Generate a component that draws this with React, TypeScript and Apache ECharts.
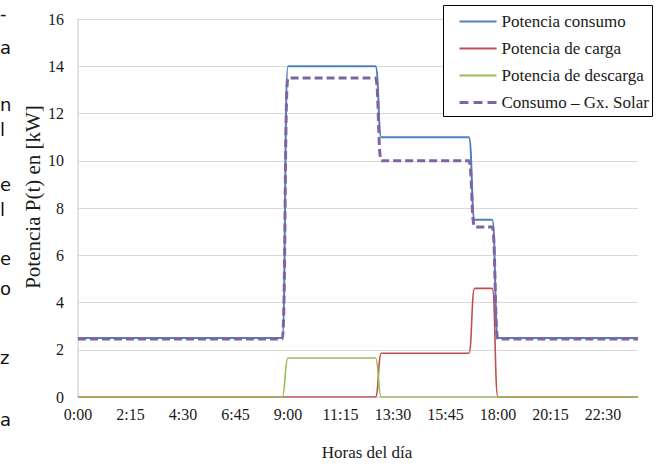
import React, { useEffect, useRef } from "react";
import * as echarts from "echarts";

const horas = [
  "0:00","0:15","0:30","0:45","1:00","1:15","1:30","1:45",
  "2:00","2:15","2:30","2:45","3:00","3:15","3:30","3:45",
  "4:00","4:15","4:30","4:45","5:00","5:15","5:30","5:45",
  "6:00","6:15","6:30","6:45","7:00","7:15","7:30","7:45",
  "8:00","8:15","8:30","8:45","9:00","9:15","9:30","9:45",
  "10:00","10:15","10:30","10:45","11:00","11:15","11:30","11:45",
  "12:00","12:15","12:30","12:45","13:00","13:15","13:30","13:45",
  "14:00","14:15","14:30","14:45","15:00","15:15","15:30","15:45",
  "16:00","16:15","16:30","16:45","17:00","17:15","17:30","17:45",
  "18:00","18:15","18:30","18:45","19:00","19:15","19:30","19:45",
  "20:00","20:15","20:30","20:45","21:00","21:15","21:30","21:45",
  "22:00","22:15","22:30","22:45","23:00","23:15","23:30","23:45",
  "24:00",
];

// 0:00 - 8:45 (36) | 9:00 - 12:45 (16) | 13:00 - 16:45 (16) | 17:00 - 17:45 (4) | 18:00 - 24:00 (25)
const potenciaConsumo = [
  2.5,2.5,2.5,2.5,2.5,2.5,2.5,2.5,2.5,2.5,2.5,2.5,2.5,2.5,2.5,2.5,2.5,2.5,
  2.5,2.5,2.5,2.5,2.5,2.5,2.5,2.5,2.5,2.5,2.5,2.5,2.5,2.5,2.5,2.5,2.5,2.5,
  14,14,14,14,14,14,14,14,14,14,14,14,14,14,14,14,
  11,11,11,11,11,11,11,11,11,11,11,11,11,11,11,11,
  7.5,7.5,7.5,7.5,
  2.5,2.5,2.5,2.5,2.5,2.5,2.5,2.5,2.5,2.5,2.5,2.5,2.5,2.5,2.5,2.5,2.5,2.5,2.5,2.5,2.5,2.5,2.5,2.5,2.5,
];

const potenciaCarga = [
  0,0,0,0,0,0,0,0,0,0,0,0,0,0,0,0,0,0,
  0,0,0,0,0,0,0,0,0,0,0,0,0,0,0,0,0,0,
  0,0,0,0,0,0,0,0,0,0,0,0,0,0,0,0,
  1.85,1.85,1.85,1.85,1.85,1.85,1.85,1.85,1.85,1.85,1.85,1.85,1.85,1.85,1.85,1.85,
  4.6,4.6,4.6,4.6,
  0,0,0,0,0,0,0,0,0,0,0,0,0,0,0,0,0,0,0,0,0,0,0,0,0,
];

const potenciaDescarga = [
  0,0,0,0,0,0,0,0,0,0,0,0,0,0,0,0,0,0,
  0,0,0,0,0,0,0,0,0,0,0,0,0,0,0,0,0,0,
  1.65,1.65,1.65,1.65,1.65,1.65,1.65,1.65,1.65,1.65,1.65,1.65,1.65,1.65,1.65,1.65,
  0,0,0,0,0,0,0,0,0,0,0,0,0,0,0,0,
  0,0,0,0,
  0,0,0,0,0,0,0,0,0,0,0,0,0,0,0,0,0,0,0,0,0,0,0,0,0,
];

const consumoMenosSolar = [
  2.45,2.45,2.45,2.45,2.45,2.45,2.45,2.45,2.45,2.45,2.45,2.45,2.45,2.45,2.45,2.45,2.45,2.45,
  2.45,2.45,2.45,2.45,2.45,2.45,2.45,2.45,2.45,2.45,2.45,2.45,2.45,2.45,2.45,2.45,2.45,2.45,
  13.5,13.5,13.5,13.5,13.5,13.5,13.5,13.5,13.5,13.5,13.5,13.5,13.5,13.5,13.5,13.5,
  10,10,10,10,10,10,10,10,10,10,10,10,10,10,10,10,
  7.2,7.2,7.2,7.2,
  2.45,2.45,2.45,2.45,2.45,2.45,2.45,2.45,2.45,2.45,2.45,2.45,2.45,2.45,2.45,2.45,2.45,2.45,2.45,2.45,2.45,2.45,2.45,2.45,2.45,
];

const seriesNames = [
  "Potencia consumo",
  "Potencia de carga",
  "Potencia de descarga",
  "Consumo \u2013 Gx. Solar",
];
const seriesColors = ["#4F81BD", "#C0504D", "#9BBB59", "#8064A2"];

const marginFragments = [
  { t: "-", y: 13 },
  { t: "a", y: 47 },
  { t: "n", y: 104 },
  { t: "l", y: 129 },
  { t: "e", y: 184 },
  { t: "l", y: 209 },
  { t: "e", y: 258 },
  { t: "o", y: 288 },
  { t: "z", y: 357 },
  { t: "a", y: 419 },
];

const SERIF = "'Liberation Serif', 'Times New Roman', serif";

export default function App() {
  const ref = useRef<HTMLDivElement>(null);
  useEffect(() => {
    if (!ref.current) return;
    const chart = echarts.init(ref.current, undefined, { renderer: "svg" });
    const data = [potenciaConsumo, potenciaCarga, potenciaDescarga, consumoMenosSolar];
    const widths = [2, 1.6, 1.6, 3];
    chart.setOption({
      animation: false,
      backgroundColor: "#ffffff",
      grid: { left: 78, right: 22, top: 19, bottom: 67, containLabel: false },
      xAxis: {
        type: "category",
        data: horas,
        boundaryGap: false,
        axisLine: { show: true, lineStyle: { color: "#D9D9D9", width: 1.5 } },
        axisTick: { show: false },
        axisLabel: {
          interval: 8,
          color: "#1a1a1a",
          fontFamily: SERIF,
          fontSize: 16,
          margin: 9,
        },
        splitLine: { show: false },
      },
      yAxis: {
        type: "value",
        min: 0,
        max: 16,
        interval: 2,
        axisLine: { show: true, lineStyle: { color: "#D9D9D9", width: 1.5 } },
        axisTick: { show: false },
        axisLabel: {
          color: "#1a1a1a",
          fontFamily: SERIF,
          fontSize: 16,
          margin: 14,
        },
        splitLine: { show: true, lineStyle: { color: "#D9D9D9", width: 1 } },
      },
      legend: {
        orient: "vertical",
        left: 458,
        top: 13,
        itemWidth: 37,
        itemHeight: 14,
        itemGap: 10,
        padding: 0,
        z: 10,
        textStyle: { color: "#1a1a1a", fontFamily: SERIF, fontSize: 17 },
        data: seriesNames.map((n, i) => ({
          name: n,
          lineStyle: { width: i === 3 ? 3 : 2, type: i === 3 ? [9, 5] : "solid", color: seriesColors[i] },
          itemStyle: { opacity: 0 },
        })),
      },
      graphic: [
        {
          type: "rect",
          shape: { x: 443.5, y: 5.5, width: 209, height: 111 },
          style: { fill: "#ffffff", stroke: "#000000", lineWidth: 1 },
          z: 1,
          silent: true,
        },
        {
          type: "text",
          x: 33,
          y: 197,
          rotation: Math.PI / 2,
          style: {
            text: "Potencia P(t) en [kW]",
            fontFamily: SERIF,
            fontSize: 21,
            fill: "#1a1a1a",
            align: "center",
            verticalAlign: "middle",
          },
        },
        {
          type: "text",
          x: 367,
          y: 452,
          style: {
            text: "Horas del d\u00eda",
            fontFamily: SERIF,
            fontSize: 17,
            fill: "#1a1a1a",
            align: "center",
            verticalAlign: "middle",
          },
        },
        ...marginFragments.map((f) => ({
          type: "text",
          x: 0,
          y: f.y,
          style: {
            text: f.t,
            fontFamily: "'DejaVu Sans', sans-serif",
            fontSize: 18,
            fill: "#111111",
            align: "left",
            verticalAlign: "middle",
          },
        })),
      ],
      series: data.map((d, i) => ({
        name: seriesNames[i],
        type: "line",
        data: d,
        symbol: "none",
        showSymbol: false,
        smooth: 0.3,
        lineStyle: {
          color: seriesColors[i],
          width: widths[i],
          type: i === 3 ? [8, 4] : "solid",
        },
        itemStyle: { color: seriesColors[i] },
        z: 2 + i,
      })),
    });
    return () => chart.dispose();
  }, []);
  return <div ref={ref} style={{ width: 660, height: 464, position: "absolute", left: 0, top: 0 }} />;
}
